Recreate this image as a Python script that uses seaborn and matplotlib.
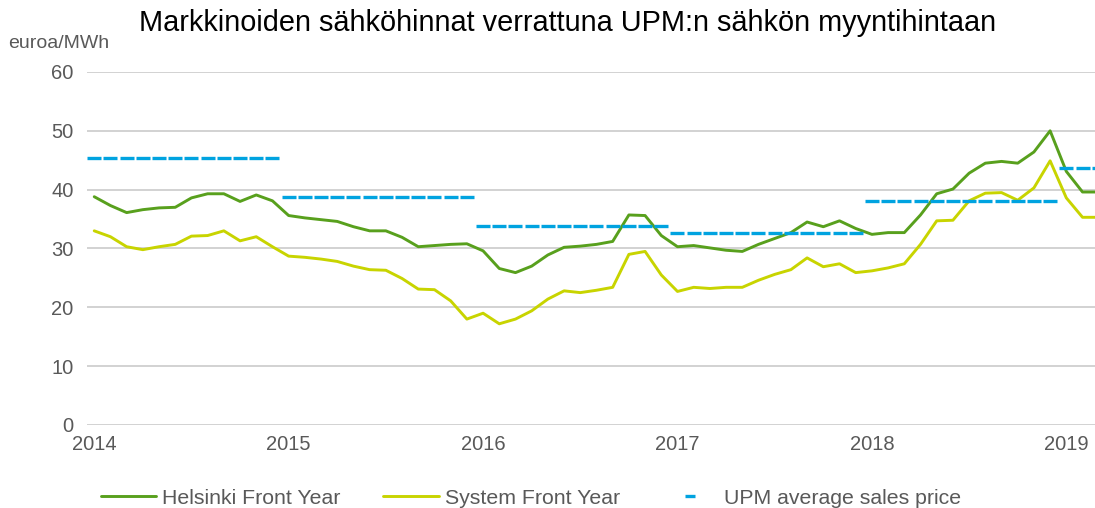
import numpy as np
import pandas as pd
import seaborn as sns
import matplotlib
matplotlib.use('Agg')
import matplotlib.pyplot as plt

# monthly data Jan 2014 - Mar 2019 (euroa/MWh)
helsinki = [38.8, 37.3, 36.1, 36.6, 36.9, 37.0, 38.6, 39.3, 39.3, 38.0, 39.1, 38.1,
            35.6, 35.2, 34.9, 34.6, 33.7, 33.0, 33.0, 31.9, 30.3, 30.5, 30.7, 30.8,
            29.6, 26.6, 25.9, 27.0, 28.9, 30.2, 30.4, 30.7, 31.2, 35.7, 35.6, 32.2,
            30.3, 30.5, 30.1, 29.7, 29.5, 30.7, 31.7, 32.7, 34.5, 33.7, 34.7, 33.4,
            32.4, 32.7, 32.7, 35.7, 39.3, 40.1, 42.8, 44.5, 44.8, 44.5, 46.4, 50.0,
            43.1, 39.6, 39.6]
system = [33.0, 32.0, 30.3, 29.8, 30.3, 30.7, 32.1, 32.2, 33.0, 31.3, 32.0, 30.3,
          28.7, 28.5, 28.2, 27.8, 27.0, 26.4, 26.3, 24.9, 23.1, 23.0, 21.1, 18.0,
          19.0, 17.2, 18.0, 19.4, 21.4, 22.8, 22.5, 22.9, 23.4, 29.0, 29.5, 25.5,
          22.7, 23.4, 23.2, 23.4, 23.4, 24.6, 25.6, 26.4, 28.4, 26.9, 27.4, 25.9,
          26.2, 26.7, 27.4, 30.7, 34.7, 34.8, 38.1, 39.4, 39.5, 38.2, 40.3, 44.9,
          38.6, 35.3, 35.3]
# UPM average sales price per year and number of months shown
upm_year = [45.4, 38.8, 33.8, 32.6, 38.1, 43.7]
upm_months = [12, 12, 12, 12, 12, 3]
years = ['2014', '2015', '2016', '2017', '2018', '2019']

month = np.arange(len(helsinki))
upm = np.repeat(upm_year, upm_months)
df = pd.DataFrame({'month': month, 'helsinki': helsinki, 'system': system, 'upm': upm})

sns.set_theme(style='white')
plt.rcParams['font.family'] = ['Liberation Sans', 'DejaVu Sans']
grey = '#595959'
blue = '#00A3E0'

fig = plt.figure(figsize=(10.95, 5.08), dpi=100)
ax = fig.add_axes([0.0797, 0.1634, 0.9203, 0.6949])

sns.lineplot(data=df, x='month', y='helsinki', color='#58A01D', linewidth=2.1,
             label='Helsinki Front Year', ax=ax)
sns.lineplot(data=df, x='month', y='system', color='#C8D400', linewidth=2.1,
             label='System Front Year', ax=ax)
sns.lineplot(data=df, x='month', y='upm', color=blue, linestyle='none',
             marker='_', markersize=10.2, markeredgewidth=2.4,
             markeredgecolor=blue, markerfacecolor=blue,
             label='UPM average sales price', ax=ax)

ax.set_ylim(0, 60)
ax.set_xlim(-0.43, 61.77)
ax.set_yticks(range(0, 61, 10))
ax.set_xticks(range(0, 61, 12))
ax.set_xticklabels(years)
ax.set_xlabel('')
ax.set_ylabel('')
ax.grid(axis='y', color='#C6C6C6', linewidth=1.1)
ax.set_axisbelow(True)
sns.despine(ax=ax, left=True, bottom=True, top=True, right=True)
ax.tick_params(axis='y', length=0, pad=10, labelsize=14.5, labelcolor=grey)
ax.tick_params(axis='x', length=0, pad=7, labelsize=14.5, labelcolor=grey)

fig.text(568 / 1095, 1 - 23 / 508, 'Markkinoiden sähköhinnat verrattuna UPM:n sähkön myyntihintaan',
         ha='center', va='center', fontsize=20.8, color='black')
fig.text(59 / 1095, 1 - 43 / 508, 'euroa/MWh', ha='center', va='center',
         fontsize=14, color=grey)

ax.get_legend().remove()
handles, labels = ax.get_legend_handles_labels()
leg = fig.legend(handles, labels, loc='center', bbox_to_anchor=(531 / 1095, 1 - 498 / 508),
                 ncol=3, frameon=False, fontsize=15.3, handlelength=2.6,
                 handletextpad=0.3, columnspacing=2.0, markerscale=0.7)
for t in leg.get_texts():
    t.set_color(grey)

fig.savefig('out.png', dpi=100)
